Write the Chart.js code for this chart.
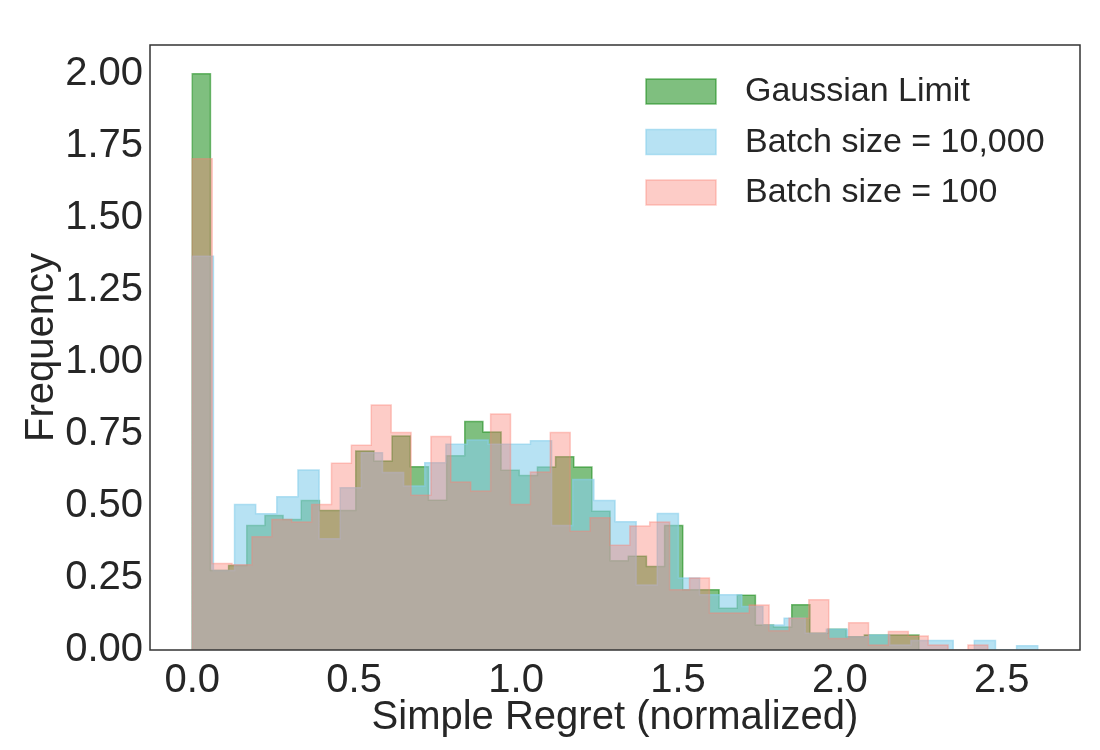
<!DOCTYPE html>
<html>
<head>
<meta charset="utf-8">
<title>Simple Regret histogram</title>
<script src="https://cdn.jsdelivr.net/npm/chart.js@4.4.1/dist/chart.umd.min.js"></script>
<style>
  html, body { margin: 0; padding: 0; background: #fff; }
  #wrap { width: 1100px; height: 750px; }
</style>
</head>
<body>
<div id="wrap"><canvas id="histChart" width="1100" height="750"></canvas></div>
<script>
const seriesLabels = ['Gaussian Limit', 'Batch size = 10,000', 'Batch size = 100'];

// each histogram has 40 bins from 0 up to its own max value
const binRanges = [2.244, 2.611, 2.457];

// bin heights (density)
const gaussianLimit = [2.00, 0.276, 0.293, 0.432, 0.467, 0.453, 0.519, 0.484, 0.484, 0.691,
  0.656, 0.743, 0.636, 0.520, 0.674, 0.793, 0.757, 0.624, 0.606, 0.635,
  0.671, 0.635, 0.482, 0.310, 0.325, 0.290, 0.432, 0.209, 0.209, 0.145,
  0.190, 0.087, 0.080, 0.157, 0.058, 0.072, 0.046, 0.052, 0.052, 0.052];

const batch10000 = [1.367, 0.276, 0.505, 0.473, 0.532, 0.625, 0.386, 0.563, 0.685, 0.616,
  0.569, 0.650, 0.714, 0.729, 0.714, 0.714, 0.726, 0.432, 0.592, 0.519,
  0.445, 0.226, 0.474, 0.250, 0.192, 0.192, 0.151, 0.087, 0.110, 0.058,
  0.072, 0.046, 0.052, 0.017, 0.033, 0.033, 0.000, 0.033, 0.000, 0.015];

const batch100 = [1.705, 0.300, 0.296, 0.393, 0.453, 0.444, 0.505, 0.648, 0.711, 0.850,
  0.755, 0.537, 0.741, 0.583, 0.552, 0.819, 0.505, 0.618, 0.755, 0.412,
  0.459, 0.364, 0.430, 0.444, 0.209, 0.250, 0.128, 0.128, 0.156, 0.067,
  0.110, 0.174, 0.040, 0.095, 0.017, 0.064, 0.049, 0.017, 0.000, 0.017];

const xTicks = [0, 0.5, 1.0, 1.5, 2.0, 2.5];
const yTicks = [0, 0.25, 0.5, 0.75, 1.0, 1.25, 1.5, 1.75, 2.0];

const textColor = '#262626';
const fontFamily = '"Liberation Sans", Arial, Helvetica, sans-serif';

// turn bin heights into step outline points (edge, height)
function toSteps(values, top) {
  const w = top / values.length;
  const pts = [{ x: 0, y: 0 }];
  values.forEach((v, i) => pts.push({ x: i * w, y: v }));
  pts.push({ x: top, y: 0 });
  return pts;
}

// matplotlib-like 5% margins
const dataMax = Math.max(...binRanges);
const xMin = -0.05 * dataMax;
const xMax = dataMax * 1.05;
const yMax = Math.max(...gaussianLimit, ...batch10000, ...batch100) * 1.05;

// frame on all four sides
const frame = {
  id: 'frame',
  afterDatasetsDraw(chart) {
    const { ctx, chartArea: a } = chart;
    ctx.save();
    ctx.strokeStyle = '#333';
    ctx.lineWidth = 1.5;
    ctx.strokeRect(a.left, a.top, a.right - a.left, a.bottom - a.top);
    ctx.restore();
  }
};

// legend in the upper right, matplotlib style
const boxLegend = {
  id: 'boxLegend',
  afterDraw(chart) {
    const { ctx, chartArea: a } = chart;
    const x0 = a.right - 434;
    ctx.save();
    ctx.font = '34px ' + fontFamily;
    ctx.textBaseline = 'middle';
    chart.data.datasets.forEach((ds, i) => {
      const top = a.top + 34 + i * 50.5;
      ctx.fillStyle = '#fff';
      ctx.fillRect(x0, top, 70, 25);
      ctx.fillStyle = ds.backgroundColor;
      ctx.fillRect(x0, top, 70, 25);
      ctx.strokeStyle = ds.borderColor;
      ctx.lineWidth = 1.5;
      ctx.strokeRect(x0, top, 70, 25);
      ctx.fillStyle = textColor;
      ctx.fillText(ds.label, x0 + 99, top + 13);
    });
    ctx.restore();
  }
};

const ctx = document.getElementById('histChart').getContext('2d');
new Chart(ctx, {
  type: 'line',
  data: {
    datasets: [
      {
        label: seriesLabels[0],
        data: toSteps(gaussianLimit, binRanges[0]),
        backgroundColor: 'rgba(0, 128, 0, 0.5)',
        borderColor: 'rgba(0, 128, 0, 0.5)',
        order: 3
      },
      {
        label: seriesLabels[1],
        data: toSteps(batch10000, binRanges[1]),
        backgroundColor: 'rgba(135, 206, 235, 0.6)',
        borderColor: 'rgba(135, 206, 235, 0.6)',
        order: 2
      },
      {
        label: seriesLabels[2],
        data: toSteps(batch100, binRanges[2]),
        backgroundColor: 'rgba(250, 128, 114, 0.4)',
        borderColor: 'rgba(250, 128, 114, 0.4)',
        order: 1
      }
    ]
  },
  options: {
    responsive: false,
    animation: false,
    layout: { padding: { left: 0, right: 20, top: 45, bottom: 0 } },
    datasets: {
      line: { stepped: 'before', fill: 'origin', borderWidth: 1.5, pointRadius: 0, tension: 0 }
    },
    plugins: {
      legend: { display: false },
      tooltip: { enabled: false }
    },
    scales: {
      x: {
        type: 'linear',
        min: xMin,
        max: xMax,
        grid: { display: false, drawTicks: false },
        border: { display: false },
        afterBuildTicks: s => { s.ticks = xTicks.map(v => ({ value: v })); },
        afterFit: s => { s.height = 100; },
        ticks: {
          padding: 7,
          maxRotation: 0,
          color: textColor,
          font: { family: fontFamily, size: 40 },
          callback: v => Number(v).toFixed(1)
        },
        title: {
          display: true,
          text: 'Simple Regret (normalized)',
          color: textColor,
          font: { family: fontFamily, size: 40 },
          padding: { top: 0, bottom: 8 }
        }
      },
      y: {
        min: 0,
        max: yMax,
        grid: { display: false, drawTicks: false },
        border: { display: false },
        afterBuildTicks: s => { s.ticks = yTicks.map(v => ({ value: v })); },
        afterFit: s => { s.width = 150; },
        ticks: {
          padding: 7,
          color: textColor,
          font: { family: fontFamily, size: 40 },
          callback: v => Number(v).toFixed(2)
        },
        title: {
          display: true,
          text: 'Frequency',
          color: textColor,
          font: { family: fontFamily, size: 40 },
          padding: { top: 18, bottom: 0 }
        }
      }
    }
  },
  plugins: [frame, boxLegend]
});
</script>
</body>
</html>
